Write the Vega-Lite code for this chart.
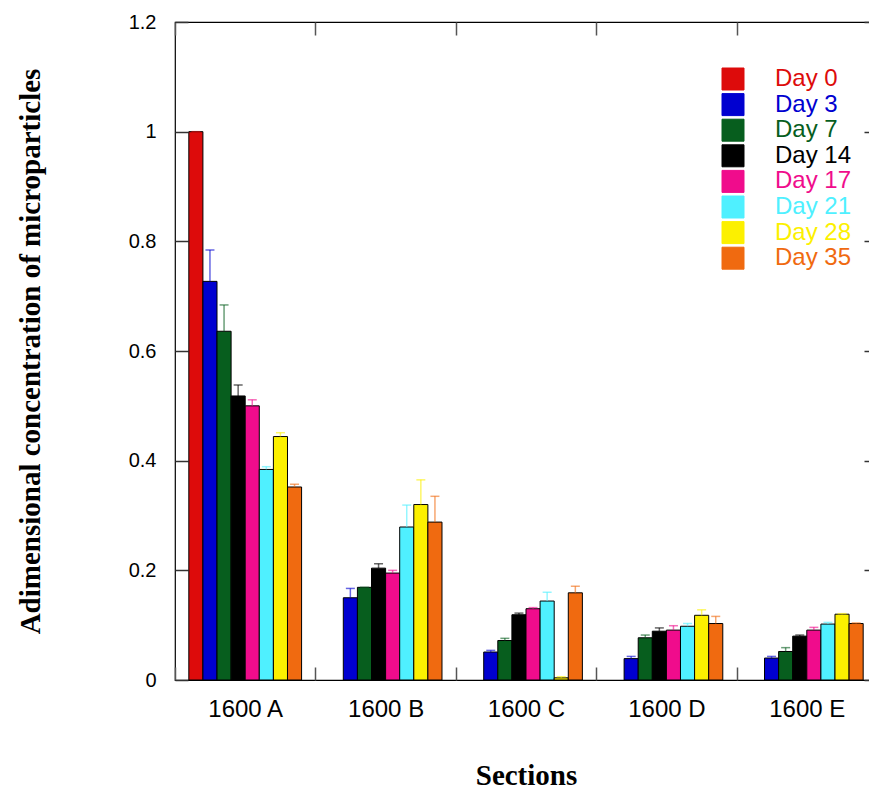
{
  "$schema": "https://vega.github.io/schema/vega-lite/v6.json",
  "width": 702,
  "height": 658,
  "autosize": {"type": "none"},
  "padding": {"left": 175, "top": 22, "right": -8, "bottom": 115},
  "background": "white",
  "config": {
    "view": {"stroke": "black", "strokeWidth": 1.2},
    "font": "Liberation Sans"
  },
  "data": {
    "values": [
      {"section": "1600 A", "day": "Day 0", "value": 1.0, "upper": 1.0},
      {"section": "1600 A", "day": "Day 3", "value": 0.727, "upper": 0.784},
      {"section": "1600 A", "day": "Day 7", "value": 0.636, "upper": 0.684},
      {"section": "1600 A", "day": "Day 14", "value": 0.518, "upper": 0.538},
      {"section": "1600 A", "day": "Day 17", "value": 0.5, "upper": 0.511},
      {"section": "1600 A", "day": "Day 21", "value": 0.384, "upper": 0.389},
      {"section": "1600 A", "day": "Day 28", "value": 0.444, "upper": 0.451},
      {"section": "1600 A", "day": "Day 35", "value": 0.352, "upper": 0.357},
      {"section": "1600 B", "day": "Day 3", "value": 0.15, "upper": 0.167},
      {"section": "1600 B", "day": "Day 7", "value": 0.169, "upper": 0.169},
      {"section": "1600 B", "day": "Day 14", "value": 0.204, "upper": 0.212},
      {"section": "1600 B", "day": "Day 17", "value": 0.195, "upper": 0.2},
      {"section": "1600 B", "day": "Day 21", "value": 0.279, "upper": 0.319},
      {"section": "1600 B", "day": "Day 28", "value": 0.32, "upper": 0.365},
      {"section": "1600 B", "day": "Day 35", "value": 0.288, "upper": 0.335},
      {"section": "1600 C", "day": "Day 3", "value": 0.051, "upper": 0.054},
      {"section": "1600 C", "day": "Day 7", "value": 0.072, "upper": 0.076},
      {"section": "1600 C", "day": "Day 14", "value": 0.119, "upper": 0.122},
      {"section": "1600 C", "day": "Day 17", "value": 0.13, "upper": 0.132},
      {"section": "1600 C", "day": "Day 21", "value": 0.144, "upper": 0.16},
      {"section": "1600 C", "day": "Day 28", "value": 0.004, "upper": 0.006},
      {"section": "1600 C", "day": "Day 35", "value": 0.159, "upper": 0.171},
      {"section": "1600 D", "day": "Day 3", "value": 0.039, "upper": 0.043},
      {"section": "1600 D", "day": "Day 7", "value": 0.077, "upper": 0.082},
      {"section": "1600 D", "day": "Day 14", "value": 0.089, "upper": 0.095},
      {"section": "1600 D", "day": "Day 17", "value": 0.091, "upper": 0.099},
      {"section": "1600 D", "day": "Day 21", "value": 0.098, "upper": 0.103},
      {"section": "1600 D", "day": "Day 28", "value": 0.118, "upper": 0.128},
      {"section": "1600 D", "day": "Day 35", "value": 0.103, "upper": 0.116},
      {"section": "1600 E", "day": "Day 3", "value": 0.04, "upper": 0.043},
      {"section": "1600 E", "day": "Day 7", "value": 0.052, "upper": 0.059},
      {"section": "1600 E", "day": "Day 14", "value": 0.08, "upper": 0.082},
      {"section": "1600 E", "day": "Day 17", "value": 0.091, "upper": 0.096},
      {"section": "1600 E", "day": "Day 21", "value": 0.102, "upper": 0.105},
      {"section": "1600 E", "day": "Day 28", "value": 0.12, "upper": 0.121},
      {"section": "1600 E", "day": "Day 35", "value": 0.103, "upper": 0.104}
    ]
  },
  "resolve": {"axis": {"x": "independent", "y": "independent"}},
  "layer": [
    {
      "mark": {"type": "bar", "stroke": "black", "strokeWidth": 1},
      "encoding": {
        "x": {
          "field": "section", "type": "nominal",
          "scale": {"paddingInner": 0, "paddingOuter": 0},
          "axis": {
            "orient": "bottom", "title": "Sections", "labelAngle": 0,
            "domain": false, "tickBand": "extent", "tickSize": -13,
            "tickColor": "#555", "tickWidth": 1.5,
            "labelFontSize": 24, "labelFont": "Liberation Sans", "labelColor": "black",
            "labelPadding": 30,
            "titleFont": "Liberation Serif", "titleFontWeight": "bold", "titleFontSize": 29,
            "titleColor": "black", "titleY": 95, "titleBaseline": "middle"
          }
        },
        "xOffset": {
          "field": "day", "type": "nominal",
          "scale": {"domain": ["Day 0", "Day 3", "Day 7", "Day 14", "Day 17", "Day 21", "Day 28", "Day 35"], "paddingInner": 0, "paddingOuter": 0.98}
        },
        "y": {
          "field": "value", "type": "quantitative",
          "scale": {"domain": [0, 1.2], "nice": false},
          "axis": {
            "orient": "right", "labels": false, "title": null, "domain": false, "grid": false,
            "values": [0, 0.2, 0.4, 0.6, 0.8, 1, 1.2],
            "tickSize": -13, "tickColor": "#333", "tickWidth": 1.5
          }
        },
        "color": {
          "field": "day", "type": "nominal",
          "scale": {
            "domain": ["Day 0", "Day 3", "Day 7", "Day 14", "Day 17", "Day 21", "Day 28", "Day 35"],
            "range": ["#dd0b0b", "#0000d0", "#075e1e", "#000000", "#f00c8c", "#4ff0ff", "#fcf000", "#f06a10"]
          },
          "legend": {
            "orient": "none", "legendX": 546, "legendY": 45, "title": null,
            "symbolType": "square", "symbolSize": 484, "symbolStrokeColor": "black",
            "symbolStrokeWidth": 1, "symbolOpacity": 1,
            "labelFontSize": 24, "labelFont": "Liberation Sans", "labelOffset": 30,
            "rowPadding": -0.4, "padding": 0,
            "encode": {"labels": {"update": {"fill": {"scale": "color", "field": "value"}}}}
          }
        }
      }
    },
    {
      "mark": {"type": "rule", "strokeWidth": 1.5, "opacity": 0.6},
      "encoding": {
        "x": {
          "field": "section", "type": "nominal",
          "axis": {"orient": "top", "labels": false, "title": null, "domain": false,
                   "tickBand": "extent", "tickSize": -13, "tickColor": "#555", "tickWidth": 1.5}
        },
        "xOffset": {"field": "day", "type": "nominal"},
        "y": {
          "field": "value", "type": "quantitative",
          "axis": {
            "orient": "left", "values": [0, 0.2, 0.4, 0.6, 0.8, 1, 1.2], "format": "~g",
            "grid": false, "domain": false, "ticks": true,
            "tickSize": -13, "tickColor": "#333", "tickWidth": 1.5,
            "labelFontSize": 20, "labelFont": "Liberation Sans", "labelColor": "black",
            "labelPadding": 32,
            "title": "Adimensional concentration of microparticles",
            "titleFont": "Liberation Serif", "titleFontWeight": "bold", "titleFontSize": 29,
            "titleColor": "black", "titleX": -145, "titleBaseline": "middle"
          }
        },
        "y2": {"field": "upper"},
        "color": {"field": "day", "type": "nominal", "legend": null}
      }
    },
    {
      "mark": {"type": "tick", "size": 9, "thickness": 1.5, "opacity": 0.6},
      "encoding": {
        "x": {"field": "section", "type": "nominal", "axis": null},
        "xOffset": {"field": "day", "type": "nominal"},
        "y": {"field": "upper", "type": "quantitative", "axis": null},
        "color": {"field": "day", "type": "nominal", "legend": null}
      }
    }
  ]
}
